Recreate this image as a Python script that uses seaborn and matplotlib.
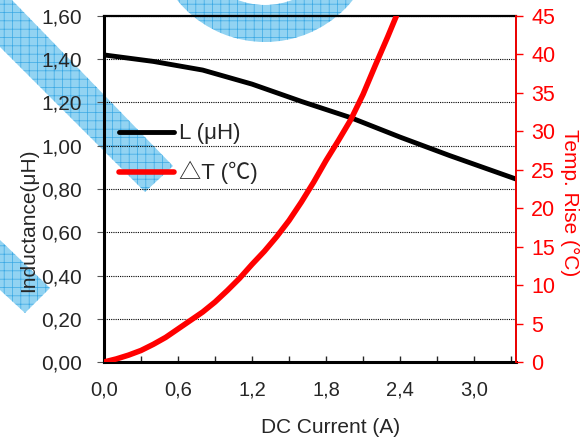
import matplotlib
matplotlib.use("Agg")
import matplotlib.pyplot as plt
import matplotlib.patches as mpatches
import matplotlib.transforms as mtrans
from matplotlib.ticker import MultipleLocator, FuncFormatter
import seaborn as sns
import pandas as pd

# data
current_L = [0.0, 0.4, 0.8, 1.2, 1.6, 2.0, 2.4, 2.8, 3.34]
inductance = [1.42, 1.39, 1.35, 1.285, 1.205, 1.13, 1.04, 0.955, 0.846]

current_T = [0.0, 0.1, 0.2, 0.3, 0.4, 0.5, 0.6, 0.7, 0.8, 0.9, 1.0, 1.1, 1.2, 1.3,
             1.4, 1.5, 1.6, 1.7, 1.8, 1.9, 2.0, 2.1, 2.2, 2.3, 2.37]
temp_rise = [0.0, 0.4, 0.9, 1.5, 2.3, 3.2, 4.3, 5.4, 6.5, 7.8, 9.3, 10.9, 12.7, 14.4,
             16.3, 18.4, 20.8, 23.4, 26.2, 28.8, 31.5, 34.8, 38.6, 42.3, 45.0]

legend_L = "L (μH)"
legend_T = "△T (℃)"

sns.set_style("white")
plt.rcParams['font.family'] = ['Liberation Sans', 'Noto Sans CJK SC', 'DejaVu Sans']
plt.rcParams['hatch.linewidth'] = 0.5

df_L = pd.DataFrame({"I": current_L, "L": inductance})
df_T = pd.DataFrame({"I": current_T, "T": temp_rise})

W, H = 588, 443
fig = plt.figure(figsize=(W / 100, H / 100), dpi=100)
ax = fig.add_axes([104 / W, (H - 362) / H, 412 / W, 346 / H])
ax.patch.set_visible(False)
ax2 = ax.twinx()

# watermark (pixel coords, y from top)
flip = mtrans.Affine2D().scale(1, -1).translate(0, H)
wm = dict(facecolor='#92d3f2', edgecolor='#3aa8e4', hatch='++', lw=0, zorder=-5)
for pts in ([(0, 0), (12, 0), (173, 166), (145, 192), (0, 47)],
            [(0, 240), (50, 288), (25, 313), (0, 290)]):
    fig.add_artist(mpatches.Polygon(pts, closed=True, transform=flip, **wm))
fig.add_artist(mpatches.Wedge((265, -71), 113, 0, 360, width=37, transform=flip, **wm))

# curves
sns.lineplot(data=df_L, x="I", y="L", ax=ax, color='black', lw=3.5, label=legend_L, legend=False)
sns.lineplot(data=df_T, x="I", y="T", ax=ax2, color='#ff0000', lw=4, label=legend_T, legend=False)

# left / x axis
ax.set_xlim(0, 3.34)
ax.set_ylim(0, 1.6)
ax.yaxis.set_major_locator(MultipleLocator(0.2))
ax.yaxis.set_major_formatter(FuncFormatter(lambda v, p: f"{v:.2f}".replace('.', ',')))
ax.xaxis.set_major_locator(MultipleLocator(0.6))
ax.xaxis.set_minor_locator(MultipleLocator(0.3))
ax.xaxis.set_major_formatter(FuncFormatter(lambda v, p: f"{v:.1f}".replace('.', ',')))
ax.grid(axis='y', color='black', lw=0.8, ls=(0, (1, 1)))
ax.tick_params(axis='y', direction='out', length=5, width=0.8, color='#555555',
               labelsize=15, pad=11, left=True)
ax.tick_params(axis='x', which='both', direction='in', length=4.5, width=1,
               labelsize=14.5, pad=13, bottom=True)
for s, w in (('left', 2.2), ('bottom', 2.2), ('top', 1.6), ('right', 1.2)):
    ax.spines[s].set_linewidth(w)
    ax.spines[s].set_color('black')

ax.set_xlabel("DC Current (A)", fontsize=15)
ax.set_ylabel("Inductance(μH)", fontsize=15)
ax.xaxis.label.set_verticalalignment('center')
ax.xaxis.set_label_coords(0.551, -0.19)
ax.yaxis.label.set_verticalalignment('center')
ax.yaxis.set_label_coords(-0.182, 0.41)

# right axis
ax2.set_ylim(0, 45)
ax2.yaxis.set_major_locator(MultipleLocator(5))
ax2.tick_params(axis='y', direction='out', length=5, width=1, colors='#ff0000',
                labelsize=15.5, pad=6, right=True)
ax2.spines['right'].set_color('#ff0000')
ax2.spines['right'].set_linewidth(1.3)
for s in ('left', 'top', 'bottom'):
    ax2.spines[s].set_visible(False)
ax2.set_ylabel("Temp. Rise (°C)", fontsize=15, color='#ff0000')
ax2.yaxis.label.set_rotation(270)
ax2.yaxis.label.set_verticalalignment('center')
ax2.yaxis.label.set_horizontalalignment('center')
ax2.yaxis.set_label_coords(1.129, 0.462)

# legend
h1, l1 = ax.get_legend_handles_labels()
h2, l2 = ax2.get_legend_handles_labels()
ax2.legend(h1 + h2, l1 + l2, loc='upper left', bbox_to_anchor=(0.015, 0.715),
           frameon=False, fontsize=16, handlelength=2.45, handletextpad=0.25,
           labelspacing=0.75, borderaxespad=0)

fig.savefig("out.png", dpi=100)
